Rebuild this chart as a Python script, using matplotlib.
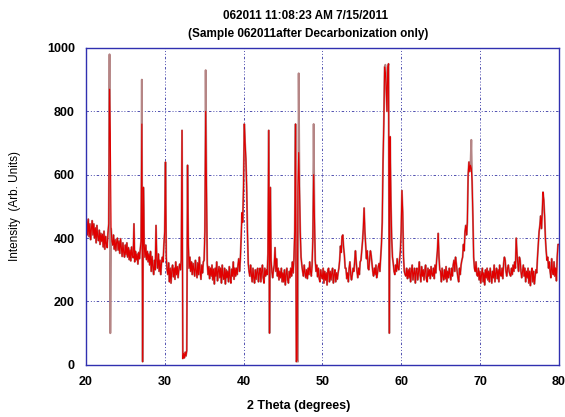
import matplotlib.pyplot as plt
import numpy as np

plt.rcParams['font.family'] = ['Liberation Sans', 'DejaVu Sans']

# 2 theta from 20 to 80 in steps of 0.1 degree (one row per degree)
two_theta = np.round(np.arange(20.0, 80.05, 0.1), 1)

intensity = [
    430, 455, 410, 460, 405, 445, 395, 430, 455, 410,   # 20
    445, 400, 432, 385, 440, 405, 392, 425, 380, 415,   # 21
    390, 412, 372, 422, 365, 405, 382, 370, 415, 445,   # 22
    870, 730, 430, 390, 378, 410, 365, 395, 360, 388,   # 23
    400, 362, 390, 352, 398, 370, 342, 385, 355, 340,   # 24
    378, 348, 385, 340, 370, 332, 362, 328, 372, 345,   # 25
    338, 445, 325, 358, 332, 350, 318, 355, 335, 365,   # 26
    390, 760, 10, 560, 380, 340, 378, 332, 358, 325,    # 27
    350, 315, 358, 295, 342, 310, 285, 330, 300, 440,   # 28
    330, 305, 350, 295, 330, 285, 322, 340, 325, 380,   # 29
    420, 640, 340, 300, 285, 322, 262, 305, 258, 298,   # 30
    315, 278, 305, 270, 325, 285, 310, 275, 302, 318,   # 31
    300, 330, 740, 20, 35, 22, 40, 28, 45, 630,         # 32
    380, 305, 340, 295, 325, 285, 320, 300, 280, 330,   # 33
    298, 275, 322, 285, 340, 295, 270, 315, 290, 325,   # 34
    330, 420, 800, 570, 320, 285, 310, 272, 305, 280,   # 35
    315, 268, 302, 255, 305, 280, 325, 265, 295, 310,   # 36
    275, 305, 258, 315, 280, 270, 305, 255, 300, 275,   # 37
    295, 262, 310, 275, 258, 302, 280, 325, 270, 305,   # 38
    280, 305, 285, 315, 335, 295, 335, 400, 480, 450,   # 39
    560, 760, 700, 650, 560, 420, 320, 295, 280, 315,   # 40
    285, 262, 305, 275, 258, 300, 270, 295, 305, 262,   # 41
    290, 305, 262, 295, 315, 275, 258, 305, 280, 300,   # 42
    285, 350, 740, 100, 560, 330, 295, 275, 300, 315,   # 43
    370, 295, 335, 280, 305, 268, 295, 275, 305, 262,   # 44
    290, 262, 300, 252, 285, 305, 268, 258, 295, 275,   # 45
    305, 280, 325, 290, 335, 420, 760, 10, 15, 560,     # 46
    670, 560, 420, 340, 315, 295, 280, 315, 290, 275,   # 47
    300, 272, 305, 285, 325, 295, 280, 315, 400, 600,   # 48
    470, 330, 295, 315, 278, 305, 272, 262, 300, 280,   # 49
    272, 305, 258, 295, 268, 290, 252, 300, 305, 262,   # 50
    295, 268, 290, 305, 258, 285, 300, 262, 290, 270,   # 51
    290, 305, 330, 375, 355, 405, 410, 370, 345, 305,   # 52
    305, 272, 290, 262, 305, 325, 285, 268, 285, 305,   # 53
    295, 325, 360, 325, 295, 275, 305, 285, 325, 330,   # 54
    360, 390, 430, 495, 420, 375, 335, 360, 305, 300,   # 55
    335, 360, 345, 320, 295, 280, 305, 285, 315, 275,   # 56
    290, 310, 320, 295, 340, 380, 450, 640, 760, 940,   # 57
    920, 880, 800, 940, 950, 100, 720, 520, 400, 340,   # 58
    320, 295, 285, 315, 295, 335, 305, 300, 330, 360,   # 59
    420, 550, 480, 340, 295, 285, 280, 305, 272, 300,   # 60
    275, 305, 262, 295, 315, 268, 290, 305, 258, 295,   # 61
    305, 268, 290, 325, 285, 262, 310, 280, 300, 268,   # 62
    295, 315, 272, 262, 305, 280, 300, 272, 310, 285,   # 63
    280, 305, 272, 315, 290, 330, 360, 415, 340, 300,   # 64
    295, 262, 305, 280, 268, 300, 272, 310, 262, 295,   # 65
    275, 305, 285, 268, 305, 280, 315, 330, 295, 340,   # 66
    320, 295, 275, 262, 305, 285, 315, 330, 340, 380,   # 67
    360, 420, 440, 410, 450, 600, 640, 610, 630, 620,   # 68
    580, 470, 340, 305, 295, 325, 285, 280, 305, 268,   # 69
    295, 258, 285, 305, 262, 290, 252, 300, 275, 305,   # 70
    268, 295, 262, 305, 280, 258, 295, 275, 315, 262,   # 71
    290, 305, 272, 300, 262, 315, 285, 280, 305, 272,   # 72
    320, 340, 330, 295, 280, 305, 315, 295, 285, 280,   # 73
    305, 285, 315, 295, 325, 305, 400, 350, 320, 295,   # 74
    340, 330, 295, 275, 295, 315, 280, 305, 262, 295,   # 75
    275, 305, 258, 295, 250, 290, 305, 262, 295, 255,   # 76
    280, 300, 290, 340, 380, 420, 440, 470, 430, 480,   # 77
    545, 520, 470, 400, 360, 330, 340, 305, 325, 295,   # 78
    275, 335, 295, 285, 325, 280, 305, 265, 340, 380,   # 79
    380,                                                # 80
]

# the second (darker) scan differs from the red one mainly at the sharp spikes
dark_angles = [23.0, 23.1, 27.1, 35.2, 46.9, 47.0, 48.9, 58.0, 68.9]
dark_values = [980, 100, 900, 930, 10, 920, 760, 947, 710]

red = np.array(intensity, dtype=float)
dark = red.copy()
for a, v in zip(dark_angles, dark_values):
    dark[int(round((a - 20.0) * 10))] = v

fig = plt.figure(figsize=(5.65, 4.17), dpi=100)
ax = fig.add_axes([0.152, 0.125, 0.837, 0.760])

ax.plot(two_theta, dark, color='#b58585', lw=1.4)
ax.plot(two_theta, red, color='#e00000', lw=0.8)

ax.set_xlim(20, 80)
ax.set_ylim(0, 1000)
ax.set_xticks([20, 30, 40, 50, 60, 70, 80])
ax.set_yticks([0, 200, 400, 600, 800, 1000])
ax.grid(True, color='#5050b0', lw=0.7, linestyle=(0, (2.5, 2, 1, 2, 1, 2)))
ax.tick_params(length=0, labelsize=9, pad=8)
for lab in ax.get_xticklabels() + ax.get_yticklabels():
    lab.set_fontweight('bold')
for s in ax.spines.values():
    s.set_color('#3030b0')
    s.set_linewidth(1.0)

fig.text(0.54, 0.962, '062011 11:08:23 AM 7/15/2011', ha='center', va='center',
         fontsize=8.5, fontweight='bold')
fig.text(0.545, 0.918, '(Sample 062011after Decarbonization only)', ha='center',
         va='center', fontsize=8.5, fontweight='bold')
fig.text(0.528, 0.012, '2 Theta (degrees)', ha='center', va='bottom',
         fontsize=9, fontweight='bold')
fig.text(0.027, 0.505, 'Intensity  (Arb. Units)', ha='center', va='center',
         rotation=90, fontsize=8.5)

fig.savefig('out.png', dpi=100)
